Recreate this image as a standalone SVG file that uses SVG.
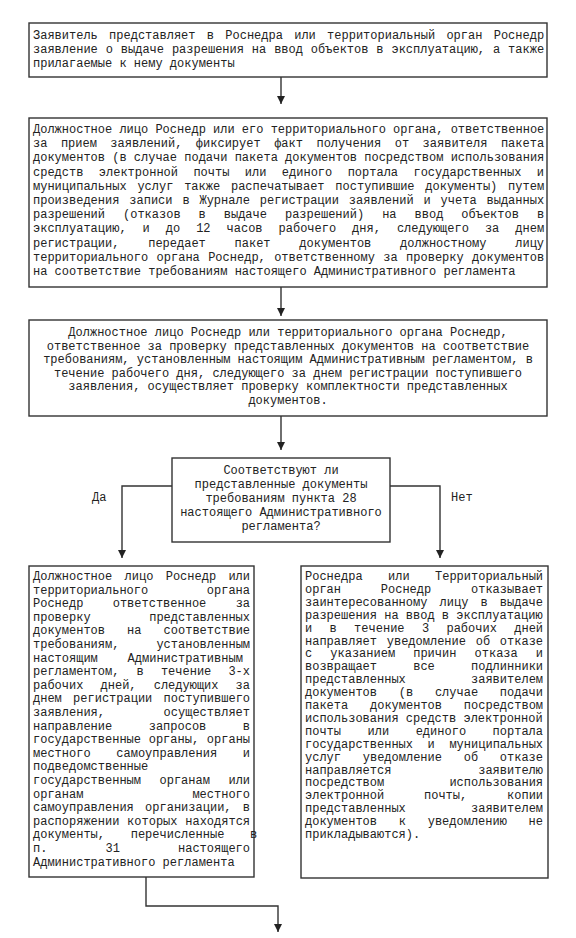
<svg xmlns="http://www.w3.org/2000/svg" width="576" height="938" viewBox="0 0 576 938">
<style>
.box{fill:#fff;stroke:#333;stroke-width:1.4}
.t{font-family:"Liberation Mono","Courier New",monospace;font-size:12px;fill:#222}
.c{text-anchor:middle}
.ln{fill:none;stroke:#333;stroke-width:1.4}
</style>
<defs>
<marker id="ah" markerUnits="userSpaceOnUse" markerWidth="8" markerHeight="8" viewBox="0 0 8 8" refX="8" refY="4" orient="auto">
<path d="M0,0 L8,4 L0,8 z" fill="#222"/>
</marker>
</defs>
<rect width="576" height="938" fill="#fff"/>
<g id="connectors">
<path class="ln" d="M281,77 V104" marker-end="url(#ah)"/>
<path class="ln" d="M281,287 V316" marker-end="url(#ah)"/>
<path class="ln" d="M281,416 V450" marker-end="url(#ah)"/>
<path class="ln" d="M172,486 H122 V558" marker-end="url(#ah)"/>
<path class="ln" d="M390,486 H440 V558" marker-end="url(#ah)"/>
<path class="ln" d="M146,877 V906 H278 V932" marker-end="url(#ah)"/>
<text class="t" x="92" y="501">Да</text>
<text class="t" x="451" y="501">Нет</text>
</g>
<g id="n1">
<rect class="box" x="29" y="23" width="518" height="54"/>
<text class="t" x="33" y="39" word-spacing="4.09">Заявитель представляет в Роснедра или территориальный орган Роснедр</text>
<text class="t" x="33" y="53" word-spacing="0.7">заявление о выдаче разрешения на ввод объектов в эксплуатацию, а также</text>
<text class="t" x="33" y="67">прилагаемые к нему документы</text>
</g>
<g id="n2">
<rect class="box" x="29" y="118" width="518" height="169"/>
<text class="t" x="33" y="133">Должностное лицо Роснедр или его территориального органа, ответственное</text>
<text class="t" x="33" y="147.2" word-spacing="6.28">за прием заявлений, фиксирует факт получения от заявителя пакета</text>
<text class="t" x="33" y="161.4">документов (в случае подачи пакета документов посредством использования</text>
<text class="t" x="33" y="175.6" word-spacing="8.2">средств электронной почты или единого портала государственных и</text>
<text class="t" x="33" y="189.8" word-spacing="3.57">муниципальных услуг также распечатывает поступившие документы) путем</text>
<text class="t" x="33" y="204" word-spacing="2.68">произведения записи в Журнале регистрации заявлений и учета выданных</text>
<text class="t" x="33" y="218.2" word-spacing="10.78">разрешений (отказов в выдаче разрешений) на ввод объектов в</text>
<text class="t" x="33" y="232.4" word-spacing="8.78">эксплуатацию, и до 12 часов рабочего дня, следующего за днем</text>
<text class="t" x="33" y="246.6" word-spacing="21.56">регистрации, передает пакет документов должностному лицу</text>
<text class="t" x="33" y="260.8" word-spacing="1.17">территориального органа Роснедр, ответственному за проверку документов</text>
<text class="t" x="33" y="275">на соответствие требованиям настоящего Административного регламента</text>
</g>
<g id="n3">
<rect class="box" x="29" y="320" width="518" height="96"/>
<text class="t c" x="288" y="336">Должностное лицо Роснедр или территориального органа Роснедр,</text>
<text class="t c" x="288" y="349.6">ответственное за проверку представленных документов на соответствие</text>
<text class="t c" x="288" y="363.2">требованиям, установленным настоящим Административным регламентом, в</text>
<text class="t c" x="288" y="376.8">течение рабочего дня, следующего за днем регистрации поступившего</text>
<text class="t c" x="288" y="390.4">заявления, осуществляет проверку комплектности представленных</text>
<text class="t c" x="288" y="404">документов.</text>
</g>
<g id="n4">
<rect class="box" x="172" y="458" width="218" height="84"/>
<text class="t c" x="281" y="474">Соответствуют ли</text>
<text class="t c" x="281" y="488">представленные документы</text>
<text class="t c" x="281" y="502">требованиям пункта 28</text>
<text class="t c" x="281" y="516">настоящего Административного</text>
<text class="t c" x="281" y="530">регламента?</text>
</g>
<g id="n5">
<rect class="box" x="29" y="566" width="225" height="311"/>
<text class="t" x="33" y="580" word-spacing="5.13">Должностное лицо Роснедр или</text>
<text class="t" x="33" y="593.6" word-spacing="51.4">территориального органа</text>
<text class="t" x="33" y="607.2" word-spacing="22.1">Роснедр ответственное за</text>
<text class="t" x="33" y="620.8" word-spacing="51.4">проверку представленных</text>
<text class="t" x="33" y="634.4" word-spacing="14.9">документов на соответствие</text>
<text class="t" x="33" y="648" word-spacing="29.8">требованиям, установленным</text>
<text class="t" x="33" y="661.6" word-spacing="22.6">настоящим Административным</text>
<text class="t" x="33" y="675.2" word-spacing="9.93">регламентом, в течение 3-х</text>
<text class="t" x="33" y="688.8" word-spacing="9.93">рабочих дней, следующих за</text>
<text class="t" x="33" y="702.4" word-spacing="4.1">днем регистрации поступившего</text>
<text class="t" x="33" y="716" word-spacing="51.4">заявления, осуществляет</text>
<text class="t" x="33" y="729.6" word-spacing="29.3">направление запросов в</text>
<text class="t" x="33" y="743.2" word-spacing="0.5">государственные органы, органы</text>
<text class="t" x="33" y="756.8" word-spacing="18.5">местного самоуправления и</text>
<text class="t" x="33" y="770.4">подведомственные</text>
<text class="t" x="33" y="784" word-spacing="11.3">государственным органам или</text>
<text class="t" x="33" y="797.6" word-spacing="101.8">органам местного</text>
<text class="t" x="33" y="811.2" word-spacing="4.1">самоуправления организации, в</text>
<text class="t" x="33" y="824.8" word-spacing="0.5">распоряжении которых находятся</text>
<text class="t" x="33" y="838.4" word-spacing="18.5">документы, перечисленные в</text>
<text class="t" x="33" y="852" word-spacing="50.9">п. 31 настоящего</text>
<text class="t" x="33" y="865.6">Административного регламента</text>
</g>
<g id="n6">
<rect class="box" x="301" y="566" width="247" height="312"/>
<text class="t" x="305" y="580" word-spacing="18.2">Роснедра или Территориальный</text>
<text class="t" x="305" y="592.9" word-spacing="32.6">орган Роснедр отказывает</text>
<text class="t" x="305" y="605.8" word-spacing="4.93">заинтересованному лицу в выдаче</text>
<text class="t" x="305" y="618.7">разрешения на ввод в эксплуатацию</text>
<text class="t" x="305" y="631.6" word-spacing="10.16">и в течение 3 рабочих дней</text>
<text class="t" x="305" y="644.5" word-spacing="2.53">направляет уведомление об отказе</text>
<text class="t" x="305" y="657.4" word-spacing="10.9">с указанием причин отказа и</text>
<text class="t" x="305" y="670.3" word-spacing="29">возвращает все подлинники</text>
<text class="t" x="305" y="683.2" word-spacing="58">представленных заявителем</text>
<text class="t" x="305" y="696.1" word-spacing="14.53">документов (в случае подачи</text>
<text class="t" x="305" y="709" word-spacing="14.6">пакета документов посредством</text>
<text class="t" x="305" y="721.9">использования средств электронной</text>
<text class="t" x="305" y="734.8" word-spacing="19.33">почты или единого портала</text>
<text class="t" x="305" y="747.7" word-spacing="7.4">государственных и муниципальных</text>
<text class="t" x="305" y="760.6" word-spacing="14.53">услуг уведомление об отказе</text>
<text class="t" x="305" y="773.5" word-spacing="79.6">направляется заявителю</text>
<text class="t" x="305" y="786.4" word-spacing="58">посредством использования</text>
<text class="t" x="305" y="799.3" word-spacing="32.6">электронной почты, копии</text>
<text class="t" x="305" y="812.2" word-spacing="58">представленных заявителем</text>
<text class="t" x="305" y="825.1" word-spacing="14.53">документов к уведомлению не</text>
<text class="t" x="305" y="838">прикладываются).</text>
</g>
</svg>
